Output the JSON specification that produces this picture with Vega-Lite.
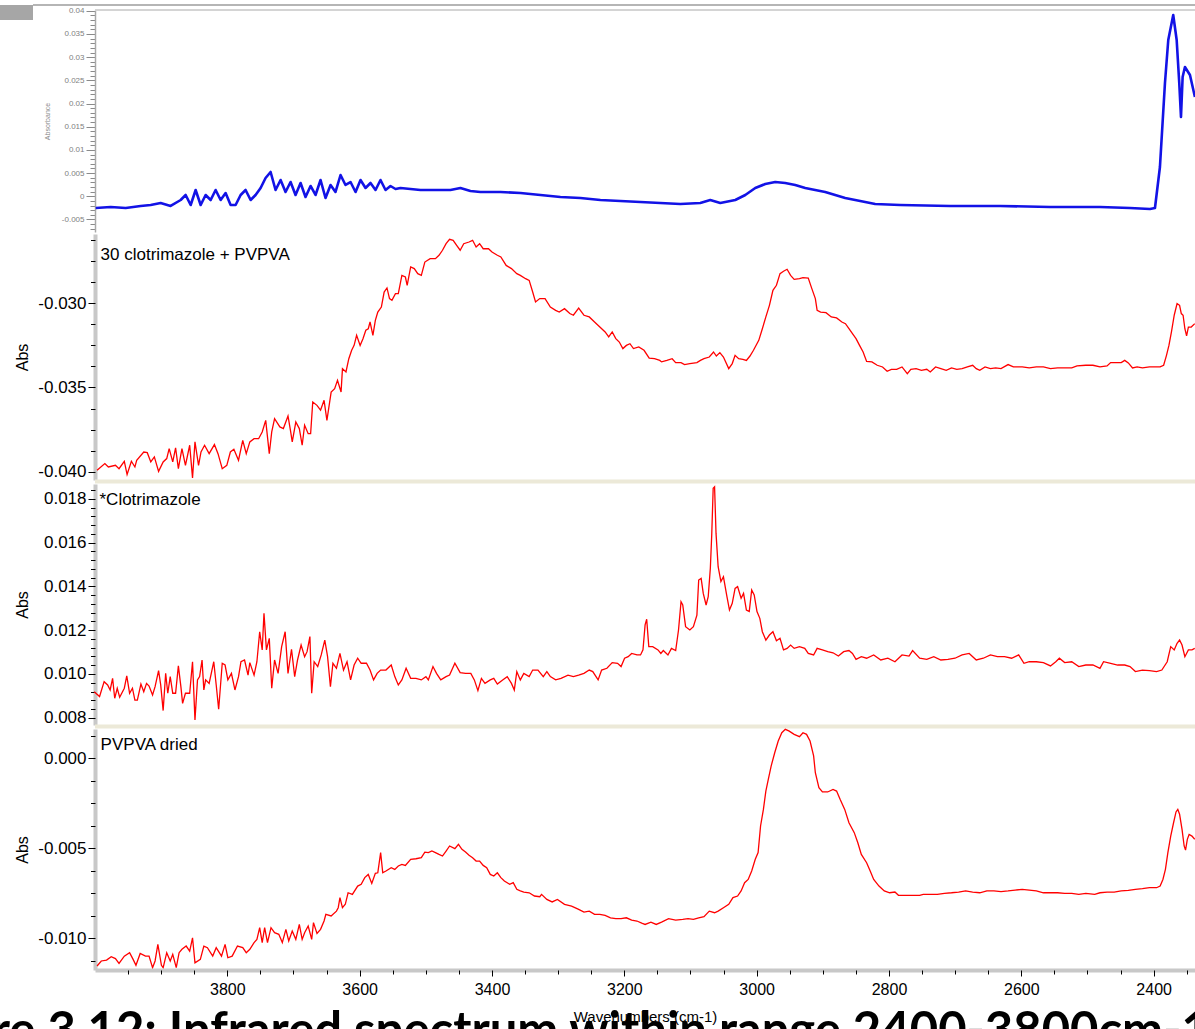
{
  "$schema": "https://vega.github.io/schema/vega-lite/v6.json",
  "width": 1100,
  "height": 962,
  "autosize": "none",
  "padding": {"left": 95, "top": 8, "right": 0, "bottom": 59},
  "background": "white",
  "config": {"view": {"stroke": null}, "font": "Liberation Sans", "axis": {"grid": false}},
  "title": {
    "text": "Figure 3.12: Infrared spectrum within range 2400-3800cm-1",
    "orient": "bottom", "frame": "group", "anchor": "middle",
    "offset": -16, "dx": -91, "baseline": "top", "zindex": 0,
    "font": "Lato", "fontSize": 49, "fontWeight": "bold", "color": "black"
  },
  "datasets": {
    "p1": [
      {"wn":3998.9,"abs":-0.00252},{"wn":3976.3,"abs":-0.00231},{"wn":3953.6,"abs":-0.00252},{"wn":3931.0,"abs":-0.00209},{"wn":3915.9,"abs":-0.00188},{"wn":3900.8,"abs":-0.00144},{"wn":3885.7,"abs":-0.00209},{"wn":3870.5,"abs":-0.00080},{"wn":3863.0,"abs":0.00028},{"wn":3855.4,"abs":-0.00188},{"wn":3847.9,"abs":0.00136},{"wn":3840.3,"abs":-0.00188},{"wn":3832.8,"abs":0.00028},{"wn":3825.2,"abs":-0.00080},{"wn":3817.7,"abs":0.00136},{"wn":3810.1,"abs":-0.00080},{"wn":3802.6,"abs":0.00071},{"wn":3795.0,"abs":-0.00188},{"wn":3787.5,"abs":-0.00188},{"wn":3779.9,"abs":0.00028},{"wn":3772.4,"abs":0.00136},{"wn":3764.8,"abs":-0.00080},{"wn":3757.3,"abs":0.00028},{"wn":3749.7,"abs":0.00179},{"wn":3742.2,"abs":0.00395},{"wn":3734.6,"abs":0.00524},{"wn":3727.1,"abs":0.00136},{"wn":3719.5,"abs":0.00351},{"wn":3712.0,"abs":0.00093},{"wn":3704.4,"abs":0.00308},{"wn":3696.9,"abs":0.00028},{"wn":3689.3,"abs":0.00287},{"wn":3681.8,"abs":-0.00015},{"wn":3674.2,"abs":0.00222},{"wn":3666.7,"abs":0.00028},{"wn":3659.1,"abs":0.00351},{"wn":3651.6,"abs":-0.00037},{"wn":3644.0,"abs":0.00244},{"wn":3636.5,"abs":0.00093},{"wn":3628.9,"abs":0.00459},{"wn":3621.4,"abs":0.00244},{"wn":3613.8,"abs":0.00308},{"wn":3606.2,"abs":0.00093},{"wn":3598.7,"abs":0.00351},{"wn":3591.1,"abs":0.00179},{"wn":3583.6,"abs":0.00287},{"wn":3576.0,"abs":0.00136},{"wn":3568.5,"abs":0.00351},{"wn":3560.9,"abs":0.00136},{"wn":3553.4,"abs":0.00222},{"wn":3545.8,"abs":0.00157},{"wn":3538.3,"abs":0.00179},{"wn":3523.2,"abs":0.00157},{"wn":3508.1,"abs":0.00136},{"wn":3493.0,"abs":0.00136},{"wn":3477.9,"abs":0.00136},{"wn":3462.8,"abs":0.00136},{"wn":3447.7,"abs":0.00179},{"wn":3432.6,"abs":0.00114},{"wn":3417.5,"abs":0.00093},{"wn":3387.2,"abs":0.00093},{"wn":3357.0,"abs":0.00071},{"wn":3326.8,"abs":0.00028},{"wn":3296.6,"abs":-0.00015},{"wn":3266.4,"abs":-0.00037},{"wn":3236.2,"abs":-0.00080},{"wn":3206.0,"abs":-0.00101},{"wn":3175.8,"abs":-0.00123},{"wn":3145.6,"abs":-0.00144},{"wn":3115.4,"abs":-0.00166},{"wn":3085.2,"abs":-0.00144},{"wn":3070.1,"abs":-0.00080},{"wn":3055.0,"abs":-0.00144},{"wn":3032.3,"abs":-0.00080},{"wn":3017.2,"abs":0.00028},{"wn":3002.1,"abs":0.00179},{"wn":2987.0,"abs":0.00265},{"wn":2971.9,"abs":0.00308},{"wn":2956.8,"abs":0.00287},{"wn":2941.7,"abs":0.00244},{"wn":2926.6,"abs":0.00179},{"wn":2911.5,"abs":0.00136},{"wn":2896.4,"abs":0.00093},{"wn":2881.3,"abs":0.00028},{"wn":2866.2,"abs":-0.00037},{"wn":2843.5,"abs":-0.00101},{"wn":2820.9,"abs":-0.00166},{"wn":2783.1,"abs":-0.00188},{"wn":2707.6,"abs":-0.00209},{"wn":2632.1,"abs":-0.00209},{"wn":2556.6,"abs":-0.00231},{"wn":2481.1,"abs":-0.00231},{"wn":2435.8,"abs":-0.00252},{"wn":2405.6,"abs":-0.00274},{"wn":2398.0,"abs":-0.00252},{"wn":2390.5,"abs":0.00632},{"wn":2382.9,"abs":0.02443},{"wn":2377.9,"abs":0.03370},{"wn":2370.4,"abs":0.03909},{"wn":2365.2,"abs":0.03370},{"wn":2361.3,"abs":0.02443},{"wn":2358.7,"abs":0.01710},{"wn":2356.2,"abs":0.02572},{"wn":2352.7,"abs":0.02787},{"wn":2345.1,"abs":0.02615},{"wn":2337.6,"abs":0.02140}
    ],
    "p2": [
      {"wn":3996.9,"abs":-0.03992},{"wn":3985.1,"abs":-0.03952},{"wn":3979.8,"abs":-0.03972},{"wn":3969.1,"abs":-0.03962},{"wn":3963.7,"abs":-0.03982},{"wn":3955.7,"abs":-0.03938},{"wn":3951.5,"abs":-0.04017},{"wn":3945.0,"abs":-0.03938},{"wn":3939.7,"abs":-0.03972},{"wn":3937.0,"abs":-0.03932},{"wn":3926.3,"abs":-0.03883},{"wn":3921.0,"abs":-0.03887},{"wn":3915.7,"abs":-0.03942},{"wn":3910.3,"abs":-0.03912},{"wn":3903.9,"abs":-0.03998},{"wn":3897.0,"abs":-0.03942},{"wn":3891.6,"abs":-0.03922},{"wn":3887.9,"abs":-0.03863},{"wn":3882.5,"abs":-0.03942},{"wn":3878.2,"abs":-0.03859},{"wn":3874.0,"abs":-0.03982},{"wn":3868.6,"abs":-0.03863},{"wn":3863.3,"abs":-0.03962},{"wn":3856.9,"abs":-0.03843},{"wn":3852.6,"abs":-0.04037},{"wn":3848.9,"abs":-0.03823},{"wn":3843.5,"abs":-0.03962},{"wn":3839.8,"abs":-0.03883},{"wn":3834.4,"abs":-0.03843},{"wn":3827.5,"abs":-0.03893},{"wn":3819.5,"abs":-0.03839},{"wn":3814.1,"abs":-0.03893},{"wn":3807.7,"abs":-0.03982},{"wn":3800.8,"abs":-0.03962},{"wn":3795.4,"abs":-0.03883},{"wn":3790.1,"abs":-0.03867},{"wn":3783.1,"abs":-0.03932},{"wn":3776.7,"abs":-0.03814},{"wn":3771.4,"abs":-0.03893},{"wn":3766.0,"abs":-0.03823},{"wn":3759.6,"abs":-0.03804},{"wn":3752.7,"abs":-0.03804},{"wn":3747.3,"abs":-0.03764},{"wn":3742.0,"abs":-0.03695},{"wn":3736.6,"abs":-0.03893},{"wn":3732.9,"abs":-0.03764},{"wn":3728.6,"abs":-0.03685},{"wn":3720.6,"abs":-0.03734},{"wn":3715.3,"abs":-0.03744},{"wn":3708.3,"abs":-0.03669},{"wn":3704.6,"abs":-0.03754},{"wn":3701.9,"abs":-0.03823},{"wn":3696.5,"abs":-0.03705},{"wn":3691.2,"abs":-0.03744},{"wn":3686.9,"abs":-0.03843},{"wn":3683.2,"abs":-0.03724},{"wn":3677.8,"abs":-0.03774},{"wn":3674.1,"abs":-0.03774},{"wn":3670.9,"abs":-0.03586},{"wn":3664.5,"abs":-0.03606},{"wn":3659.1,"abs":-0.03635},{"wn":3653.8,"abs":-0.03576},{"wn":3649.5,"abs":-0.03695},{"wn":3643.1,"abs":-0.03527},{"wn":3637.8,"abs":-0.03507},{"wn":3633.5,"abs":-0.03457},{"wn":3628.1,"abs":-0.03527},{"wn":3626.0,"abs":-0.03388},{"wn":3620.7,"abs":-0.03408},{"wn":3616.4,"abs":-0.03329},{"wn":3612.1,"abs":-0.03279},{"wn":3608.4,"abs":-0.03250},{"wn":3604.6,"abs":-0.03190},{"wn":3599.3,"abs":-0.03250},{"wn":3595.0,"abs":-0.03210},{"wn":3590.7,"abs":-0.03160},{"wn":3587.0,"abs":-0.03151},{"wn":3584.3,"abs":-0.03111},{"wn":3580.0,"abs":-0.03190},{"wn":3576.3,"abs":-0.03101},{"wn":3572.6,"abs":-0.03052},{"wn":3567.2,"abs":-0.03022},{"wn":3563.0,"abs":-0.02933},{"wn":3558.7,"abs":-0.02909},{"wn":3554.9,"abs":-0.02972},{"wn":3551.2,"abs":-0.02982},{"wn":3545.9,"abs":-0.02943},{"wn":3541.6,"abs":-0.02943},{"wn":3536.2,"abs":-0.02834},{"wn":3530.9,"abs":-0.02844},{"wn":3528.2,"abs":-0.02893},{"wn":3522.9,"abs":-0.02784},{"wn":3517.5,"abs":-0.02794},{"wn":3512.2,"abs":-0.02824},{"wn":3506.8,"abs":-0.02834},{"wn":3501.5,"abs":-0.02755},{"wn":3493.5,"abs":-0.02735},{"wn":3485.5,"abs":-0.02735},{"wn":3480.1,"abs":-0.02715},{"wn":3474.8,"abs":-0.02685},{"wn":3469.4,"abs":-0.02646},{"wn":3464.1,"abs":-0.02620},{"wn":3458.7,"abs":-0.02626},{"wn":3453.4,"abs":-0.02656},{"wn":3448.1,"abs":-0.02685},{"wn":3442.7,"abs":-0.02646},{"wn":3434.7,"abs":-0.02636},{"wn":3429.3,"abs":-0.02626},{"wn":3424.0,"abs":-0.02666},{"wn":3418.7,"abs":-0.02646},{"wn":3413.3,"abs":-0.02676},{"wn":3405.3,"abs":-0.02676},{"wn":3400.0,"abs":-0.02695},{"wn":3391.9,"abs":-0.02715},{"wn":3386.6,"abs":-0.02725},{"wn":3378.6,"abs":-0.02775},{"wn":3370.6,"abs":-0.02794},{"wn":3362.5,"abs":-0.02824},{"wn":3357.2,"abs":-0.02834},{"wn":3349.2,"abs":-0.02854},{"wn":3343.8,"abs":-0.02864},{"wn":3338.5,"abs":-0.02933},{"wn":3334.2,"abs":-0.02992},{"wn":3327.8,"abs":-0.02972},{"wn":3319.8,"abs":-0.02972},{"wn":3311.8,"abs":-0.03022},{"wn":3303.8,"abs":-0.03042},{"wn":3298.4,"abs":-0.03052},{"wn":3290.4,"abs":-0.03032},{"wn":3282.4,"abs":-0.03061},{"wn":3277.0,"abs":-0.03071},{"wn":3269.0,"abs":-0.03028},{"wn":3261.0,"abs":-0.03071},{"wn":3253.0,"abs":-0.03081},{"wn":3245.0,"abs":-0.03111},{"wn":3237.0,"abs":-0.03141},{"wn":3229.0,"abs":-0.03170},{"wn":3223.6,"abs":-0.03200},{"wn":3218.3,"abs":-0.03170},{"wn":3212.9,"abs":-0.03210},{"wn":3207.6,"abs":-0.03230},{"wn":3202.2,"abs":-0.03269},{"wn":3196.9,"abs":-0.03250},{"wn":3191.5,"abs":-0.03240},{"wn":3186.2,"abs":-0.03269},{"wn":3178.2,"abs":-0.03259},{"wn":3170.2,"abs":-0.03279},
      {"wn":3162.4,"abs":-0.03325},{"wn":3154.4,"abs":-0.03329},{"wn":3146.4,"abs":-0.03339},{"wn":3143.7,"abs":-0.03348},{"wn":3135.7,"abs":-0.03339},{"wn":3127.7,"abs":-0.03329},{"wn":3122.4,"abs":-0.03352},{"wn":3114.3,"abs":-0.03352},{"wn":3109.0,"abs":-0.03364},{"wn":3101.0,"abs":-0.03358},{"wn":3090.3,"abs":-0.03352},{"wn":3085.0,"abs":-0.03339},{"wn":3079.6,"abs":-0.03329},{"wn":3071.6,"abs":-0.03319},{"wn":3065.2,"abs":-0.03289},{"wn":3060.9,"abs":-0.03313},{"wn":3055.6,"abs":-0.03293},{"wn":3050.2,"abs":-0.03319},{"wn":3042.2,"abs":-0.03388},{"wn":3036.9,"abs":-0.03358},{"wn":3032.6,"abs":-0.03309},{"wn":3027.2,"abs":-0.03329},{"wn":3020.8,"abs":-0.03333},{"wn":3015.5,"abs":-0.03339},{"wn":3010.1,"abs":-0.03313},{"wn":3004.8,"abs":-0.03279},{"wn":2996.8,"abs":-0.03220},{"wn":2991.4,"abs":-0.03151},{"wn":2986.1,"abs":-0.03081},{"wn":2980.7,"abs":-0.03012},{"wn":2975.4,"abs":-0.02923},{"wn":2970.1,"abs":-0.02893},{"wn":2964.7,"abs":-0.02824},{"wn":2959.4,"abs":-0.02810},{"wn":2954.0,"abs":-0.02798},{"wn":2948.7,"abs":-0.02834},{"wn":2943.3,"abs":-0.02858},{"wn":2935.3,"abs":-0.02854},{"wn":2930.0,"abs":-0.02848},{"wn":2922.0,"abs":-0.02850},{"wn":2916.6,"abs":-0.02913},{"wn":2911.3,"abs":-0.02972},{"wn":2908.6,"abs":-0.03042},{"wn":2903.3,"abs":-0.03052},{"wn":2895.2,"abs":-0.03056},{"wn":2887.2,"abs":-0.03081},{"wn":2879.2,"abs":-0.03087},{"wn":2871.2,"abs":-0.03111},{"wn":2865.8,"abs":-0.03121},{"wn":2860.5,"abs":-0.03151},{"wn":2855.2,"abs":-0.03180},{"wn":2849.8,"abs":-0.03210},{"wn":2844.5,"abs":-0.03250},{"wn":2839.1,"abs":-0.03289},{"wn":2833.8,"abs":-0.03345},{"wn":2825.8,"abs":-0.03348},{"wn":2817.8,"abs":-0.03368},{"wn":2809.7,"abs":-0.03378},{"wn":2802.8,"abs":-0.03404},{"wn":2796.4,"abs":-0.03392},{"wn":2788.4,"abs":-0.03392},{"wn":2780.3,"abs":-0.03378},{"wn":2772.3,"abs":-0.03418},{"wn":2767.0,"abs":-0.03392},{"wn":2759.0,"abs":-0.03388},{"wn":2751.0,"abs":-0.03398},{"wn":2742.9,"abs":-0.03392},{"wn":2737.6,"abs":-0.03408},{"wn":2729.6,"abs":-0.03378},{"wn":2721.6,"abs":-0.03388},{"wn":2713.5,"abs":-0.03398},{"wn":2705.5,"abs":-0.03384},{"wn":2697.5,"abs":-0.03392},{"wn":2689.5,"abs":-0.03388},{"wn":2681.5,"abs":-0.03378},{"wn":2673.5,"abs":-0.03368},{"wn":2668.1,"abs":-0.03388},{"wn":2662.8,"abs":-0.03398},{"wn":2654.8,"abs":-0.03378},{"wn":2646.7,"abs":-0.03388},{"wn":2638.7,"abs":-0.03384},{"wn":2630.7,"abs":-0.03388},{"wn":2620.0,"abs":-0.03364},{"wn":2612.0,"abs":-0.03378},{"wn":2598.6,"abs":-0.03378},{"wn":2588.0,"abs":-0.03384},{"wn":2577.3,"abs":-0.03378},{"wn":2566.6,"abs":-0.03378},{"wn":2555.9,"abs":-0.03388},{"wn":2545.2,"abs":-0.03384},{"wn":2534.5,"abs":-0.03384},{"wn":2523.8,"abs":-0.03384},{"wn":2515.8,"abs":-0.03372},{"wn":2502.5,"abs":-0.03368},{"wn":2491.8,"abs":-0.03368},{"wn":2481.1,"abs":-0.03378},{"wn":2470.4,"abs":-0.03372},{"wn":2465.0,"abs":-0.03352},{"wn":2449.0,"abs":-0.03352},{"wn":2443.7,"abs":-0.03339},{"wn":2438.3,"abs":-0.03354},{"wn":2431.9,"abs":-0.03384},{"wn":2425.0,"abs":-0.03378},{"wn":2417.0,"abs":-0.03384},{"wn":2406.3,"abs":-0.03378},{"wn":2390.2,"abs":-0.03378},{"wn":2384.9,"abs":-0.03368},{"wn":2380.6,"abs":-0.03309},{"wn":2376.9,"abs":-0.03250},{"wn":2373.1,"abs":-0.03170},{"wn":2368.9,"abs":-0.03071},{"wn":2364.6,"abs":-0.03002},{"wn":2360.8,"abs":-0.03012},{"wn":2358.2,"abs":-0.03061},{"wn":2355.5,"abs":-0.03071},{"wn":2352.8,"abs":-0.03151},{"wn":2350.2,"abs":-0.03194},{"wn":2347.5,"abs":-0.03141},{"wn":2343.2,"abs":-0.03141},{"wn":2337.9,"abs":-0.03121}
    ],
    "p3": [
      {"wn":4001.2,"abs":0.00919},{"wn":3993.1,"abs":0.00897},{"wn":3986.2,"abs":0.00965},{"wn":3980.9,"abs":0.00950},{"wn":3977.1,"abs":0.00927},{"wn":3973.4,"abs":0.00980},{"wn":3970.2,"abs":0.00889},{"wn":3966.4,"abs":0.00935},{"wn":3962.7,"abs":0.00894},{"wn":3955.7,"abs":0.00935},{"wn":3952.0,"abs":0.00991},{"wn":3947.7,"abs":0.00912},{"wn":3943.4,"abs":0.00935},{"wn":3939.7,"abs":0.00881},{"wn":3936.0,"abs":0.00881},{"wn":3930.6,"abs":0.00954},{"wn":3926.3,"abs":0.00919},{"wn":3922.1,"abs":0.00957},{"wn":3918.3,"abs":0.00945},{"wn":3913.0,"abs":0.00904},{"wn":3909.2,"abs":0.00942},{"wn":3903.9,"abs":0.01015},{"wn":3900.7,"abs":0.00950},{"wn":3897.0,"abs":0.00833},{"wn":3893.2,"abs":0.01003},{"wn":3890.0,"abs":0.00912},{"wn":3886.3,"abs":0.00988},{"wn":3882.5,"abs":0.00912},{"wn":3878.2,"abs":0.00912},{"wn":3874.0,"abs":0.01037},{"wn":3870.2,"abs":0.00942},{"wn":3867.6,"abs":0.00866},{"wn":3863.3,"abs":0.00912},{"wn":3856.9,"abs":0.00912},{"wn":3852.6,"abs":0.01056},{"wn":3848.9,"abs":0.00790},{"wn":3845.1,"abs":0.00973},{"wn":3841.9,"abs":0.00988},{"wn":3838.2,"abs":0.01064},{"wn":3835.5,"abs":0.00927},{"wn":3832.8,"abs":0.00973},{"wn":3827.5,"abs":0.00957},{"wn":3820.5,"abs":0.01056},{"wn":3816.8,"abs":0.00950},{"wn":3813.1,"abs":0.00839},{"wn":3807.7,"abs":0.01049},{"wn":3803.4,"abs":0.01041},{"wn":3799.2,"abs":0.00973},{"wn":3793.8,"abs":0.01003},{"wn":3788.5,"abs":0.00927},{"wn":3783.1,"abs":0.00988},{"wn":3779.4,"abs":0.01056},{"wn":3774.0,"abs":0.01064},{"wn":3768.7,"abs":0.00995},{"wn":3766.0,"abs":0.01052},{"wn":3759.6,"abs":0.00995},{"wn":3755.3,"abs":0.01056},{"wn":3751.1,"abs":0.01193},{"wn":3747.3,"abs":0.01110},{"wn":3744.6,"abs":0.01277},{"wn":3740.9,"abs":0.01110},{"wn":3736.6,"abs":0.01163},{"wn":3732.9,"abs":0.00935},{"wn":3728.6,"abs":0.01064},{"wn":3723.3,"abs":0.01003},{"wn":3717.9,"abs":0.01125},{"wn":3712.6,"abs":0.01193},{"wn":3708.3,"abs":0.01003},{"wn":3703.0,"abs":0.01113},{"wn":3698.2,"abs":0.00988},{"wn":3693.9,"abs":0.01064},{"wn":3688.5,"abs":0.01132},{"wn":3683.2,"abs":0.01079},{"wn":3679.5,"abs":0.01102},{"wn":3675.2,"abs":0.01171},{"wn":3672.5,"abs":0.00912},{"wn":3668.8,"abs":0.01056},{"wn":3663.4,"abs":0.01034},{"wn":3658.1,"abs":0.01087},{"wn":3652.7,"abs":0.01155},{"wn":3648.5,"abs":0.01079},{"wn":3644.2,"abs":0.00942},{"wn":3640.4,"abs":0.01049},{"wn":3635.1,"abs":0.01026},{"wn":3629.8,"abs":0.01094},{"wn":3624.4,"abs":0.01018},{"wn":3619.1,"abs":0.01056},{"wn":3613.7,"abs":0.00973},{"wn":3608.4,"abs":0.01041},{"wn":3603.0,"abs":0.01072},{"wn":3597.7,"abs":0.01049},{"wn":3589.7,"abs":0.01049},{"wn":3584.3,"abs":0.01018},{"wn":3579.0,"abs":0.00973},{"wn":3573.6,"abs":0.01003},{"wn":3568.3,"abs":0.01018},{"wn":3560.3,"abs":0.01018},{"wn":3552.3,"abs":0.01041},{"wn":3546.9,"abs":0.00988},{"wn":3541.6,"abs":0.00950},{"wn":3536.2,"abs":0.00973},{"wn":3529.8,"abs":0.01026},{"wn":3522.9,"abs":0.00980},{"wn":3514.9,"abs":0.00980},{"wn":3506.8,"abs":0.00973},{"wn":3499.9,"abs":0.00988},{"wn":3496.2,"abs":0.00973},{"wn":3489.2,"abs":0.01034},{"wn":3483.9,"abs":0.01003},{"wn":3477.4,"abs":0.00973},{"wn":3469.4,"abs":0.00988},{"wn":3464.1,"abs":0.00995},{"wn":3456.1,"abs":0.01049},{"wn":3448.1,"abs":0.01006},{"wn":3440.0,"abs":0.01003},{"wn":3432.0,"abs":0.01003},{"wn":3426.7,"abs":0.00973},{"wn":3421.3,"abs":0.00924},{"wn":3416.0,"abs":0.00980},{"wn":3410.6,"abs":0.00957},{"wn":3402.6,"abs":0.00973},{"wn":3397.3,"abs":0.00980},{"wn":3391.9,"abs":0.00954},{"wn":3383.9,"abs":0.00973},{"wn":3377.0,"abs":0.00988},{"wn":3370.6,"abs":0.00957},{"wn":3366.3,"abs":0.00927},{"wn":3362.5,"abs":0.01011},{"wn":3357.2,"abs":0.00973},{"wn":3351.9,"abs":0.01003},{"wn":3343.8,"abs":0.00988},{"wn":3338.5,"abs":0.01018},{"wn":3330.5,"abs":0.01018},{"wn":3322.5,"abs":0.00988},{"wn":3317.1,"abs":0.01011},{"wn":3311.8,"abs":0.00988},{"wn":3303.8,"abs":0.00973},{"wn":3295.7,"abs":0.00980},{"wn":3285.1,"abs":0.00995},{"wn":3277.0,"abs":0.00988},{"wn":3269.0,"abs":0.00995},{"wn":3261.0,"abs":0.01003},{"wn":3253.0,"abs":0.01018},{"wn":3247.7,"abs":0.01011},{"wn":3239.6,"abs":0.00973},{"wn":3234.3,"abs":0.01018},{"wn":3226.3,"abs":0.01026},{"wn":3218.3,"abs":0.01052},{"wn":3210.2,"abs":0.01049},{"wn":3204.9,"abs":0.01034},{"wn":3199.6,"abs":0.01072},{"wn":3194.2,"abs":0.01079},{"wn":3188.9,"abs":0.01094},{"wn":3180.9,"abs":0.01087},{"wn":3175.5,"abs":0.01087},{"wn":3171.8,"abs":0.01110},{"wn":3168.6,"abs":0.01224},
      {"wn":3166.2,"abs":0.01250},{"wn":3163.0,"abs":0.01125},{"wn":3157.1,"abs":0.01125},{"wn":3149.1,"abs":0.01110},{"wn":3144.8,"abs":0.01094},{"wn":3141.1,"abs":0.01107},{"wn":3134.1,"abs":0.01087},{"wn":3128.8,"abs":0.01117},{"wn":3122.4,"abs":0.01107},{"wn":3118.1,"abs":0.01201},{"wn":3114.3,"abs":0.01330},{"wn":3111.7,"abs":0.01315},{"wn":3107.4,"abs":0.01216},{"wn":3101.0,"abs":0.01201},{"wn":3095.6,"abs":0.01216},{"wn":3090.3,"abs":0.01269},{"wn":3087.6,"abs":0.01429},{"wn":3083.9,"abs":0.01437},{"wn":3080.7,"abs":0.01368},{"wn":3076.4,"abs":0.01315},{"wn":3073.2,"abs":0.01353},{"wn":3070.0,"abs":0.01483},{"wn":3067.9,"abs":0.01635},{"wn":3065.7,"abs":0.01848},{"wn":3063.6,"abs":0.01855},{"wn":3061.4,"abs":0.01642},{"wn":3058.2,"abs":0.01490},{"wn":3054.0,"abs":0.01422},{"wn":3050.2,"abs":0.01444},{"wn":3044.9,"abs":0.01353},{"wn":3041.1,"abs":0.01292},{"wn":3036.9,"abs":0.01323},{"wn":3032.6,"abs":0.01391},{"wn":3028.8,"abs":0.01399},{"wn":3023.5,"abs":0.01346},{"wn":3019.8,"abs":0.01368},{"wn":3015.5,"abs":0.01292},{"wn":3011.2,"abs":0.01285},{"wn":3007.5,"abs":0.01384},{"wn":3003.7,"abs":0.01361},{"wn":2999.5,"abs":0.01285},{"wn":2995.2,"abs":0.01254},{"wn":2991.4,"abs":0.01193},{"wn":2986.1,"abs":0.01155},{"wn":2980.7,"abs":0.01178},{"wn":2975.4,"abs":0.01193},{"wn":2970.1,"abs":0.01152},{"wn":2964.7,"abs":0.01163},{"wn":2959.4,"abs":0.01110},{"wn":2954.0,"abs":0.01117},{"wn":2948.7,"abs":0.01132},{"wn":2943.3,"abs":0.01117},{"wn":2935.3,"abs":0.01125},{"wn":2927.3,"abs":0.01117},{"wn":2922.0,"abs":0.01094},{"wn":2913.9,"abs":0.01087},{"wn":2908.6,"abs":0.01117},{"wn":2900.6,"abs":0.01110},{"wn":2892.6,"abs":0.01102},{"wn":2884.6,"abs":0.01097},{"wn":2876.5,"abs":0.01082},{"wn":2868.5,"abs":0.01102},{"wn":2860.5,"abs":0.01107},{"wn":2855.2,"abs":0.01094},{"wn":2849.8,"abs":0.01067},{"wn":2841.8,"abs":0.01079},{"wn":2833.8,"abs":0.01072},{"wn":2823.1,"abs":0.01087},{"wn":2812.4,"abs":0.01064},{"wn":2801.7,"abs":0.01072},{"wn":2791.0,"abs":0.01056},{"wn":2780.3,"abs":0.01087},{"wn":2769.7,"abs":0.01082},{"wn":2764.3,"abs":0.01107},{"wn":2753.6,"abs":0.01072},{"wn":2742.9,"abs":0.01067},{"wn":2732.3,"abs":0.01079},{"wn":2721.6,"abs":0.01064},{"wn":2710.9,"abs":0.01067},{"wn":2700.2,"abs":0.01072},{"wn":2689.5,"abs":0.01087},{"wn":2678.8,"abs":0.01094},{"wn":2668.1,"abs":0.01064},{"wn":2657.4,"abs":0.01072},{"wn":2646.7,"abs":0.01087},{"wn":2636.1,"abs":0.01079},{"wn":2625.4,"abs":0.01079},{"wn":2614.7,"abs":0.01072},{"wn":2604.0,"abs":0.01087},{"wn":2596.0,"abs":0.01049},{"wn":2588.0,"abs":0.01056},{"wn":2577.3,"abs":0.01056},{"wn":2566.6,"abs":0.01052},{"wn":2555.9,"abs":0.01037},{"wn":2547.9,"abs":0.01056},{"wn":2542.5,"abs":0.01072},{"wn":2534.5,"abs":0.01052},{"wn":2523.8,"abs":0.01056},{"wn":2513.1,"abs":0.01034},{"wn":2502.5,"abs":0.01041},{"wn":2491.8,"abs":0.01041},{"wn":2481.1,"abs":0.01026},{"wn":2475.7,"abs":0.01056},{"wn":2465.0,"abs":0.01049},{"wn":2454.4,"abs":0.01041},{"wn":2443.7,"abs":0.01041},{"wn":2435.7,"abs":0.01034},{"wn":2427.6,"abs":0.01011},{"wn":2417.0,"abs":0.01018},{"wn":2406.3,"abs":0.01015},{"wn":2395.6,"abs":0.01011},{"wn":2387.6,"abs":0.01018},{"wn":2379.5,"abs":0.01056},{"wn":2374.2,"abs":0.01125},{"wn":2368.9,"abs":0.01110},{"wn":2364.6,"abs":0.01140},{"wn":2360.8,"abs":0.01155},{"wn":2357.1,"abs":0.01132},{"wn":2352.8,"abs":0.01079},{"wn":2347.5,"abs":0.01110},{"wn":2342.1,"abs":0.01110},{"wn":2337.9,"abs":0.01117}
    ],
    "p4": [
      {"wn":3996.9,"abs":-0.01154},{"wn":3990.5,"abs":-0.01126},{"wn":3982.5,"abs":-0.01121},{"wn":3975.5,"abs":-0.01102},{"wn":3969.1,"abs":-0.01113},{"wn":3963.7,"abs":-0.01139},{"wn":3955.7,"abs":-0.01099},{"wn":3947.7,"abs":-0.01080},{"wn":3942.4,"abs":-0.01117},{"wn":3938.1,"abs":-0.01150},{"wn":3931.7,"abs":-0.01084},{"wn":3923.7,"abs":-0.01099},{"wn":3918.3,"abs":-0.01099},{"wn":3913.0,"abs":-0.01163},{"wn":3909.2,"abs":-0.01126},{"wn":3905.0,"abs":-0.01034},{"wn":3899.6,"abs":-0.01150},{"wn":3897.0,"abs":-0.01163},{"wn":3891.6,"abs":-0.01080},{"wn":3886.3,"abs":-0.01126},{"wn":3882.5,"abs":-0.01089},{"wn":3877.2,"abs":-0.01163},{"wn":3872.9,"abs":-0.01080},{"wn":3868.6,"abs":-0.01061},{"wn":3862.2,"abs":-0.01043},{"wn":3856.9,"abs":-0.01071},{"wn":3852.6,"abs":-0.00997},{"wn":3848.9,"abs":-0.01136},{"wn":3840.8,"abs":-0.01117},{"wn":3835.5,"abs":-0.01043},{"wn":3830.1,"abs":-0.01052},{"wn":3822.1,"abs":-0.01099},{"wn":3816.8,"abs":-0.01052},{"wn":3808.8,"abs":-0.01099},{"wn":3803.4,"abs":-0.01034},{"wn":3799.2,"abs":-0.01108},{"wn":3792.7,"abs":-0.01099},{"wn":3784.7,"abs":-0.01043},{"wn":3776.7,"abs":-0.01052},{"wn":3771.4,"abs":-0.01080},{"wn":3766.0,"abs":-0.01061},{"wn":3759.6,"abs":-0.01024},{"wn":3755.3,"abs":-0.01006},{"wn":3751.1,"abs":-0.00941},{"wn":3747.3,"abs":-0.01024},{"wn":3743.6,"abs":-0.00941},{"wn":3739.3,"abs":-0.01024},{"wn":3734.0,"abs":-0.00941},{"wn":3728.6,"abs":-0.00969},{"wn":3722.2,"abs":-0.00978},{"wn":3716.9,"abs":-0.01024},{"wn":3711.5,"abs":-0.00950},{"wn":3707.2,"abs":-0.01015},{"wn":3701.9,"abs":-0.00960},{"wn":3696.5,"abs":-0.01006},{"wn":3691.2,"abs":-0.00923},{"wn":3686.9,"abs":-0.01006},{"wn":3683.2,"abs":-0.00969},{"wn":3677.8,"abs":-0.00932},{"wn":3672.5,"abs":-0.01006},{"wn":3669.8,"abs":-0.00913},{"wn":3664.5,"abs":-0.00973},{"wn":3659.1,"abs":-0.00950},{"wn":3653.8,"abs":-0.00904},{"wn":3651.1,"abs":-0.00867},{"wn":3643.1,"abs":-0.00876},{"wn":3635.1,"abs":-0.00849},{"wn":3632.4,"abs":-0.00830},{"wn":3629.8,"abs":-0.00774},{"wn":3626.0,"abs":-0.00830},{"wn":3621.7,"abs":-0.00811},{"wn":3617.5,"abs":-0.00747},{"wn":3611.0,"abs":-0.00756},{"wn":3603.0,"abs":-0.00710},{"wn":3597.7,"abs":-0.00700},{"wn":3592.3,"abs":-0.00663},{"wn":3587.0,"abs":-0.00645},{"wn":3581.7,"abs":-0.00695},{"wn":3576.3,"abs":-0.00639},{"wn":3572.6,"abs":-0.00636},{"wn":3568.3,"abs":-0.00524},{"wn":3565.1,"abs":-0.00636},{"wn":3560.3,"abs":-0.00626},{"wn":3552.3,"abs":-0.00608},{"wn":3546.9,"abs":-0.00617},{"wn":3541.6,"abs":-0.00598},{"wn":3536.2,"abs":-0.00589},{"wn":3530.9,"abs":-0.00595},{"wn":3522.9,"abs":-0.00561},{"wn":3514.9,"abs":-0.00558},{"wn":3506.8,"abs":-0.00552},{"wn":3501.5,"abs":-0.00521},{"wn":3496.2,"abs":-0.00524},{"wn":3490.8,"abs":-0.00515},{"wn":3485.5,"abs":-0.00524},{"wn":3480.1,"abs":-0.00534},{"wn":3474.8,"abs":-0.00543},{"wn":3469.4,"abs":-0.00515},{"wn":3464.1,"abs":-0.00487},{"wn":3456.1,"abs":-0.00502},{"wn":3450.7,"abs":-0.00478},{"wn":3445.4,"abs":-0.00506},{"wn":3440.0,"abs":-0.00521},{"wn":3434.7,"abs":-0.00539},{"wn":3429.3,"abs":-0.00552},{"wn":3424.0,"abs":-0.00571},{"wn":3418.7,"abs":-0.00571},{"wn":3413.3,"abs":-0.00595},{"wn":3408.0,"abs":-0.00608},{"wn":3402.6,"abs":-0.00645},{"wn":3397.3,"abs":-0.00654},{"wn":3391.9,"abs":-0.00636},{"wn":3386.6,"abs":-0.00663},{"wn":3381.3,"abs":-0.00682},{"wn":3373.2,"abs":-0.00700},{"wn":3367.9,"abs":-0.00691},{"wn":3362.5,"abs":-0.00728},{"wn":3357.2,"abs":-0.00737},{"wn":3351.9,"abs":-0.00743},{"wn":3343.8,"abs":-0.00747},{"wn":3335.8,"abs":-0.00765},{"wn":3327.8,"abs":-0.00769},{"wn":3325.1,"abs":-0.00756},{"wn":3317.1,"abs":-0.00784},{"wn":3309.1,"abs":-0.00798},{"wn":3301.1,"abs":-0.00784},{"wn":3290.4,"abs":-0.00811},{"wn":3279.7,"abs":-0.00821},{"wn":3269.0,"abs":-0.00839},{"wn":3261.0,"abs":-0.00854},{"wn":3253.0,"abs":-0.00849},{"wn":3245.0,"abs":-0.00867},{"wn":3237.0,"abs":-0.00867},{"wn":3229.0,"abs":-0.00873},{"wn":3220.9,"abs":-0.00886},{"wn":3212.9,"abs":-0.00891},{"wn":3204.9,"abs":-0.00891},{"wn":3196.9,"abs":-0.00886},{"wn":3188.9,"abs":-0.00899},{"wn":3180.9,"abs":-0.00904},{"wn":3172.8,"abs":-0.00917},{"wn":3168.6,"abs":-0.00923},
      {"wn":3159.8,"abs":-0.00910},{"wn":3151.8,"abs":-0.00923},{"wn":3143.7,"abs":-0.00910},{"wn":3133.1,"abs":-0.00891},{"wn":3122.4,"abs":-0.00899},{"wn":3111.7,"abs":-0.00895},{"wn":3103.7,"abs":-0.00891},{"wn":3095.6,"abs":-0.00895},{"wn":3087.6,"abs":-0.00886},{"wn":3079.6,"abs":-0.00880},{"wn":3071.6,"abs":-0.00849},{"wn":3063.6,"abs":-0.00858},{"wn":3058.2,"abs":-0.00849},{"wn":3050.2,"abs":-0.00830},{"wn":3042.2,"abs":-0.00811},{"wn":3035.8,"abs":-0.00774},{"wn":3028.8,"abs":-0.00765},{"wn":3023.5,"abs":-0.00737},{"wn":3018.2,"abs":-0.00691},{"wn":3012.8,"abs":-0.00673},{"wn":3007.5,"abs":-0.00626},{"wn":3002.1,"abs":-0.00561},{"wn":2997.8,"abs":-0.00524},{"wn":2994.1,"abs":-0.00376},{"wn":2989.8,"abs":-0.00284},{"wn":2986.1,"abs":-0.00182},{"wn":2982.4,"abs":-0.00117},{"wn":2978.1,"abs":-0.00043},{"wn":2972.7,"abs":0.00031},{"wn":2967.4,"abs":0.00096},{"wn":2962.0,"abs":0.00142},{"wn":2956.7,"abs":0.00161},{"wn":2951.4,"abs":0.00152},{"wn":2943.3,"abs":0.00133},{"wn":2935.3,"abs":0.00120},{"wn":2930.0,"abs":0.00142},{"wn":2924.6,"abs":0.00133},{"wn":2919.3,"abs":0.00096},{"wn":2913.9,"abs":0.00013},{"wn":2911.3,"abs":-0.00080},{"wn":2905.9,"abs":-0.00163},{"wn":2900.6,"abs":-0.00187},{"wn":2892.6,"abs":-0.00187},{"wn":2884.6,"abs":-0.00173},{"wn":2879.2,"abs":-0.00182},{"wn":2873.9,"abs":-0.00228},{"wn":2866.9,"abs":-0.00284},{"wn":2860.5,"abs":-0.00358},{"wn":2852.5,"abs":-0.00413},{"wn":2847.1,"abs":-0.00469},{"wn":2841.8,"abs":-0.00534},{"wn":2833.8,"abs":-0.00580},{"wn":2828.4,"abs":-0.00626},{"wn":2823.1,"abs":-0.00673},{"wn":2815.1,"abs":-0.00710},{"wn":2807.1,"abs":-0.00737},{"wn":2799.0,"abs":-0.00747},{"wn":2791.0,"abs":-0.00743},{"wn":2785.7,"abs":-0.00761},{"wn":2769.7,"abs":-0.00761},{"wn":2753.6,"abs":-0.00761},{"wn":2748.3,"abs":-0.00756},{"wn":2737.6,"abs":-0.00756},{"wn":2726.9,"abs":-0.00756},{"wn":2716.2,"abs":-0.00750},{"wn":2705.5,"abs":-0.00747},{"wn":2694.8,"abs":-0.00743},{"wn":2684.2,"abs":-0.00737},{"wn":2673.5,"abs":-0.00743},{"wn":2662.8,"abs":-0.00747},{"wn":2652.1,"abs":-0.00737},{"wn":2641.4,"abs":-0.00737},{"wn":2630.7,"abs":-0.00741},{"wn":2620.0,"abs":-0.00737},{"wn":2609.3,"abs":-0.00732},{"wn":2598.6,"abs":-0.00728},{"wn":2588.0,"abs":-0.00732},{"wn":2577.3,"abs":-0.00737},{"wn":2566.6,"abs":-0.00747},{"wn":2555.9,"abs":-0.00747},{"wn":2545.2,"abs":-0.00747},{"wn":2534.5,"abs":-0.00750},{"wn":2523.8,"abs":-0.00750},{"wn":2513.1,"abs":-0.00756},{"wn":2502.5,"abs":-0.00750},{"wn":2489.1,"abs":-0.00756},{"wn":2481.1,"abs":-0.00747},{"wn":2470.4,"abs":-0.00743},{"wn":2459.7,"abs":-0.00743},{"wn":2449.0,"abs":-0.00737},{"wn":2438.3,"abs":-0.00734},{"wn":2427.6,"abs":-0.00728},{"wn":2417.0,"abs":-0.00724},{"wn":2406.3,"abs":-0.00719},{"wn":2395.6,"abs":-0.00719},{"wn":2390.2,"abs":-0.00710},{"wn":2386.0,"abs":-0.00673},{"wn":2382.2,"abs":-0.00617},{"wn":2378.5,"abs":-0.00524},{"wn":2374.2,"abs":-0.00432},{"wn":2369.9,"abs":-0.00358},{"wn":2366.2,"abs":-0.00298},{"wn":2363.5,"abs":-0.00284},{"wn":2360.8,"abs":-0.00311},{"wn":2357.1,"abs":-0.00395},{"wn":2353.9,"abs":-0.00487},{"wn":2351.8,"abs":-0.00510},{"wn":2349.1,"abs":-0.00450},{"wn":2346.4,"abs":-0.00423},{"wn":2342.1,"abs":-0.00432},{"wn":2337.9,"abs":-0.00450}
    ],
    "one": [{"k": 1}]
  },
  "resolve": {"scale": {"y": "independent"}, "axis": {"y": "independent"}},
  "layer": [
    {
      "resolve": {"axis": {"y": "independent"}},
      "layer": [
        {
          "data": {"name": "one"},
          "mark": {"type": "rule", "color": "#d4d4d4", "strokeWidth": 2},
          "encoding": {
            "y": {
              "datum": 0.04017, "type": "quantitative",
              "scale": {"domain": [-0.0077, 0.04017], "range": [224, 2], "nice": false, "zero": false},
              "axis": {"orient": "left", "title": null, "labels": false, "domain": false, "grid": false,
                "values": [-0.007,-0.006,-0.005,-0.004,-0.003,-0.002,-0.001,0,0.001,0.002,0.003,0.004,0.005,0.006,0.007,0.008,0.009,0.01,0.011,0.012,0.013,0.014,0.015,0.016,0.017,0.018,0.019,0.02,0.021,0.022,0.023,0.024,0.025,0.026,0.027,0.028,0.029,0.03,0.031,0.032,0.033,0.034,0.035,0.036,0.037,0.038,0.039,0.04],
                "tickSize": 5, "tickColor": "#8a8a8a", "tickWidth": 1, "minExtent": 0, "maxExtent": 5}
            }
          }
        },
        {
          "data": {"name": "one"},
          "mark": {"type": "rule", "color": "#9c9c9c", "strokeWidth": 1.5},
          "encoding": {
            "x": {"datum": 4093.7, "type": "quantitative", "scale": {"domain": [2337.5, 4000], "reverse": true, "nice": false, "zero": false}, "axis": null},
            "x2": {"datum": 2337.5},
            "y": {"datum": 0.041248, "type": "quantitative", "scale": {"domain": [-0.0077, 0.04017], "range": [224, 2], "nice": false, "zero": false}, "axis": null}
          }
        },
        {
          "data": {"name": "one"},
          "mark": {"type": "rect", "color": "#a6a6a6"},
          "encoding": {
            "x": {"datum": 4143.6, "type": "quantitative", "scale": {"domain": [2337.5, 4000], "reverse": true, "nice": false, "zero": false}, "axis": null},
            "x2": {"datum": 4093.7},
            "y": {"datum": 0.041248, "type": "quantitative", "scale": {"domain": [-0.0077, 0.04017], "range": [224, 2], "nice": false, "zero": false}, "axis": null},
            "y2": {"datum": 0.037994}
          }
        },
        {
          "data": {"name": "p1"},
          "mark": {"type": "line", "color": "#1212e6", "strokeWidth": 2.6, "strokeJoin": "round"},
          "encoding": {
            "x": {"field": "wn", "type": "quantitative", "scale": {"domain": [2337.5, 4000], "reverse": true, "nice": false, "zero": false}, "axis": null},
            "y": {
              "field": "abs", "type": "quantitative",
              "scale": {"domain": [-0.0077, 0.04017], "range": [224, 2], "nice": false, "zero": false},
              "axis": {
                "orient": "left", "title": "Absorbance", "titleFontSize": 7, "titleColor": "#8a8a8a", "titleFontWeight": "normal", "titlePadding": 14,
                "values": [-0.005,0,0.005,0.01,0.015,0.02,0.025,0.03,0.035,0.04],
                "labelExpr": "(datum.value<0?'-':'')+format(abs(datum.value),'~g')",
                "labelFontSize": 8, "labelColor": "#808080", "labelPadding": 2, "labelOverlap": false,
                "tickColor": "#8a8a8a", "tickWidth": 1, "tickSize": 9,
                "domainColor": "#a8a8a8", "domainWidth": 1.5, "minExtent": 31, "maxExtent": 31
              }
            }
          }
        }
      ]
    },
    {
      "resolve": {"axis": {"y": "independent"}},
      "layer": [
        {
          "data": {"name": "p2"},
          "mark": {"type": "line", "color": "#ff0000", "strokeWidth": 1.3},
          "encoding": {
            "x": {"field": "wn", "type": "quantitative", "scale": {"domain": [2337.5, 4000], "reverse": true, "nice": false, "zero": false}, "axis": null},
            "y": {
              "field": "abs", "type": "quantitative",
              "scale": {"domain": [-0.040493, -0.025885], "range": [472, 226], "nice": false, "zero": false},
              "axis": {
                "orient": "left", "title": "Abs", "titleFontSize": 16, "titleColor": "black", "titleFontWeight": "normal", "titlePadding": 9,
                "values": [-0.04,-0.035,-0.03],
                "labelExpr": "(datum.value<0?'-':'')+format(abs(datum.value),'.3f')",
                "labelFontSize": 17, "labelColor": "black", "labelPadding": 2, "labelOverlap": false,
                "tickColor": "black", "tickWidth": 1, "tickSize": 7,
                "domainColor": "#c8c8c8", "domainWidth": 4, "minExtent": 56, "maxExtent": 56
              }
            }
          }
        },
        {
          "data": {"values": [{"label": "30 clotrimazole +  PVPVA"}]},
          "mark": {"type": "text", "align": "left", "baseline": "alphabetic", "fontSize": 17, "color": "black"},
          "encoding": {
            "x": {"datum": 3991.5, "type": "quantitative", "axis": null},
            "y": {
              "datum": -0.027429, "type": "quantitative",
              "scale": {"domain": [-0.040493, -0.025885], "range": [472, 226], "nice": false, "zero": false},
              "axis": {"orient": "left", "title": null, "labels": false, "domain": false, "grid": false,
                "values": [-0.04,-0.03875,-0.0375,-0.03625,-0.035,-0.03375,-0.0325,-0.03125,-0.03,-0.02875,-0.0275,-0.02625],
                "tickSize": 4.5, "tickColor": "black", "tickWidth": 1, "minExtent": 0, "maxExtent": 5}
            },
            "text": {"field": "label"}
          }
        }
      ]
    },
    {
      "resolve": {"axis": {"y": "independent"}},
      "layer": [
        {
          "data": {"name": "one"},
          "mark": {"type": "rule", "color": "#ece9d8", "strokeWidth": 4},
          "encoding": {
            "y": {"datum": 0.01879, "type": "quantitative", "scale": {"domain": [0.007671, 0.018676], "range": [717, 476], "nice": false, "zero": false}, "axis": null}
          }
        },
        {
          "data": {"name": "p3"},
          "mark": {"type": "line", "color": "#ff0000", "strokeWidth": 1.3},
          "encoding": {
            "x": {"field": "wn", "type": "quantitative", "scale": {"domain": [2337.5, 4000], "reverse": true, "nice": false, "zero": false}, "axis": null},
            "y": {
              "field": "abs", "type": "quantitative",
              "scale": {"domain": [0.007671, 0.018676], "range": [717, 476], "nice": false, "zero": false},
              "axis": {
                "orient": "left", "title": "Abs", "titleFontSize": 16, "titleColor": "black", "titleFontWeight": "normal", "titlePadding": 9,
                "values": [0.008,0.01,0.012,0.014,0.016,0.018],
                "format": ".3f",
                "labelFontSize": 17, "labelColor": "black", "labelPadding": 2, "labelOverlap": false,
                "tickColor": "black", "tickWidth": 1, "tickSize": 7,
                "domainColor": "#c8c8c8", "domainWidth": 4, "minExtent": 56, "maxExtent": 56
              }
            }
          }
        },
        {
          "data": {"values": [{"label": "*Clotrimazole"}]},
          "mark": {"type": "text", "align": "left", "baseline": "alphabetic", "fontSize": 17, "color": "black"},
          "encoding": {
            "x": {"datum": 3993.2, "type": "quantitative", "axis": null},
            "y": {
              "datum": 0.017717, "type": "quantitative",
              "scale": {"domain": [0.007671, 0.018676], "range": [717, 476], "nice": false, "zero": false},
              "axis": {"orient": "left", "title": null, "labels": false, "domain": false, "grid": false,
                "values": [0.008,0.0084,0.0088,0.0092,0.0096,0.01,0.0104,0.0108,0.0112,0.0116,0.012,0.0124,0.0128,0.0132,0.0136,0.014,0.0144,0.0148,0.0152,0.0156,0.016,0.0164,0.0168,0.0172,0.0176,0.018,0.0184],
                "tickSize": 4.5, "tickColor": "black", "tickWidth": 1, "minExtent": 0, "maxExtent": 5}
            },
            "text": {"field": "label"}
          }
        }
      ]
    },
    {
      "resolve": {"axis": {"y": "independent", "x": "independent"}},
      "layer": [
        {
          "data": {"name": "one"},
          "mark": {"type": "rule", "color": "#ece9d8", "strokeWidth": 4},
          "encoding": {
            "y": {"datum": 0.001767, "type": "quantitative", "scale": {"domain": [-0.011761, 0.001628], "range": [962, 721], "nice": false, "zero": false}, "axis": null}
          }
        },
        {
          "data": {"name": "p4"},
          "mark": {"type": "line", "color": "#ff0000", "strokeWidth": 1.3},
          "encoding": {
            "x": {
              "field": "wn", "type": "quantitative",
              "scale": {"domain": [2337.5, 4000], "reverse": true, "nice": false, "zero": false},
              "axis": {
                "orient": "bottom", "title": "Wavenumbers (cm-1)", "titleFontSize": 15, "titleFontWeight": "normal", "titleColor": "black", "titlePadding": 12,
                "values": [2400,2600,2800,3000,3200,3400,3600,3800],
                "format": "d",
                "labelFontSize": 16, "labelColor": "black", "labelPadding": 5, "labelOverlap": false, "labelFlush": false,
                "tickColor": "black", "tickWidth": 1, "tickSize": 6,
                "domainColor": "#c8c8c8", "domainWidth": 4, "zindex": 2
              }
            },
            "y": {
              "field": "abs", "type": "quantitative",
              "scale": {"domain": [-0.011761, 0.001628], "range": [962, 721], "nice": false, "zero": false},
              "axis": {
                "orient": "left", "title": "Abs", "titleFontSize": 16, "titleColor": "black", "titleFontWeight": "normal", "titlePadding": 9,
                "values": [-0.01,-0.005,0],
                "labelExpr": "(datum.value<0?'-':'')+format(abs(datum.value),'.3f')",
                "labelFontSize": 17, "labelColor": "black", "labelPadding": 2, "labelOverlap": false,
                "tickColor": "black", "tickWidth": 1, "tickSize": 7,
                "domainColor": "#c8c8c8", "domainWidth": 4, "minExtent": 56, "maxExtent": 56
              }
            }
          }
        },
        {
          "data": {"values": [{"label": "PVPVA dried"}]},
          "mark": {"type": "text", "align": "left", "baseline": "alphabetic", "fontSize": 17, "color": "black"},
          "encoding": {
            "x": {
              "datum": 3991.5, "type": "quantitative",
              "scale": {"domain": [2337.5, 4000], "reverse": true, "nice": false, "zero": false},
              "axis": {"orient": "bottom", "title": null, "labels": false, "domain": false, "grid": false,
                "values": [2350,2400,2450,2500,2550,2600,2650,2700,2750,2800,2850,2900,2950,3000,3050,3100,3150,3200,3250,3300,3350,3400,3450,3500,3550,3600,3650,3700,3750,3800,3850,3900,3950],
                "tickSize": 4, "tickColor": "black", "tickWidth": 1, "zindex": 2}
            },
            "y": {
              "datum": 0.000461, "type": "quantitative",
              "scale": {"domain": [-0.011761, 0.001628], "range": [962, 721], "nice": false, "zero": false},
              "axis": {"orient": "left", "title": null, "labels": false, "domain": false, "grid": false,
                "values": [-0.01125,-0.01,-0.00875,-0.0075,-0.00625,-0.005,-0.00375,-0.0025,-0.00125,0,0.00125],
                "tickSize": 4.5, "tickColor": "black", "tickWidth": 1, "minExtent": 0, "maxExtent": 5}
            },
            "text": {"field": "label"}
          }
        }
      ]
    }
  ]
}
